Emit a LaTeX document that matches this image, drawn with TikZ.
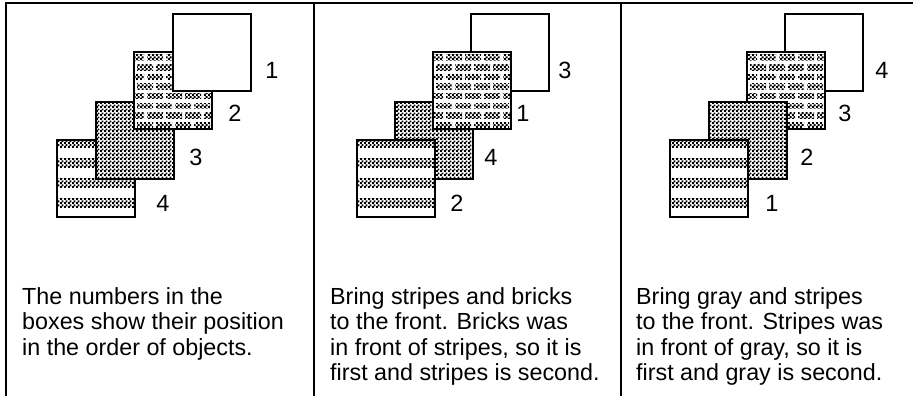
\documentclass[tikz,border=0pt]{standalone}
\usepackage{fontspec}
\setmainfont{Liberation Sans}
\usetikzlibrary{patterns}

% fine dither used for the gray tone
\pgfdeclarepatternformonly{dither}{\pgfpointorigin}{\pgfpoint{4pt}{4pt}}{\pgfpoint{4pt}{4pt}}{
  \pgfpathrectangle{\pgfpointorigin}{\pgfpoint{2.3pt}{2.3pt}}
  \pgfpathrectangle{\pgfpoint{2pt}{2pt}}{\pgfpoint{2.3pt}{2.3pt}}
  \pgfusepath{fill}}

\tikzset{
  frame/.style={line width=2pt},
  sq/.style={line width=2.8pt, fill=white},
  num/.style={font=\fontsize{23.5}{25}\selectfont, inner sep=0pt},
  caption/.style={font=\fontsize{23.3}{25.5}\selectfont, align=left, anchor=north west, inner sep=0pt},
}

% the four squares, given their top left corner
\newcommand\plainsq[1]{\filldraw[sq] (#1) rectangle ++(78,77);}
\newcommand\graysq[1]{%
  \fill[white] (#1) rectangle ++(78,77);
  \fill[pattern=dither] (#1) rectangle ++(78,77);
  \draw[sq, fill=none] (#1) rectangle ++(78,77);}
\newcommand\stripesq[1]{%
  \begin{scope}[shift={(#1)}]
    \fill[white] (0,0) rectangle (78,77);
    \begin{scope}
      \clip (0,0) rectangle (78,77);
      \foreach \k in {0,...,3}
        \fill[pattern=dither] (0,-2+20*\k) rectangle ++(78,9);
    \end{scope}
    \draw[sq, fill=none] (0,0) rectangle (78,77);
  \end{scope}}
\newcommand\bricksq[1]{%
  \begin{scope}[shift={(#1)}]
    \fill[white] (0,0) rectangle (78,77);
    \begin{scope}
      \clip (0,0) rectangle (78,77);
      \foreach \r in {0,...,7} {
        \pgfmathsetmacro\off{mod(\r,2)*9}
        \foreach \c in {-1,...,4}
          \fill[pattern=dither] (\c*19+\off-6,3+\r*9.6) rectangle ++(16,5.5);
      }
    \end{scope}
    \draw[sq, fill=none] (0,0) rectangle (78,77);
  \end{scope}}

\begin{document}
\begin{tikzpicture}[x=1pt, y=-1pt]
  \useasboundingbox (0,0) rectangle (913,396);
  % panel frame
  \draw[frame] (6,396) -- (6,3) -- (913,3);
  \draw[frame] (314,3) -- (314,396);
  \draw[frame] (621,3) -- (621,396);

  % first panel: white, bricks, gray, stripes from front to back
  \stripesq{57,140}
  \graysq{96,102}
  \bricksq{134,52}
  \plainsq{173,14}
  \node[num] (a1) at (272,70) {1};
  \node[num] (a2) at (235,113) {2};
  \node[num] (a3) at (196,157) {3};
  \node[num] (a4) at (163,203) {4};

  % second panel: bricks and stripes brought forward
  \graysq{395,102}
  \plainsq{471,14}
  \stripesq{357,140}
  \bricksq{433,52}
  \node[num] (b3) at (565,70) {3};
  \node[num] (b1) at (523,113) {1};
  \node[num] (b4) at (491,157) {4};
  \node[num] (b2) at (457,203) {2};

  % third panel: gray and stripes brought forward
  \plainsq{785,14}
  \bricksq{747,52}
  \graysq{709,102}
  \stripesq{670,140}
  \node[num] (c4) at (882,70) {4};
  \node[num] (c3) at (845,113) {3};
  \node[num] (c2) at (807,157) {2};
  \node[num] (c1) at (772,203) {1};

  % captions
  \node[caption] (t1) at (22,287) {The numbers in the\\boxes show their position\\in the order of objects.};
  \node[caption] (t2) at (330,287) {Bring stripes and bricks\\to the front. Bricks was\\in front of stripes, so it is\\first and stripes is second.};
  \node[caption] (t3) at (636,287) {Bring gray and stripes\\to the front. Stripes was\\in front of gray, so it is\\first and gray is second.};
\end{tikzpicture}
\end{document}
